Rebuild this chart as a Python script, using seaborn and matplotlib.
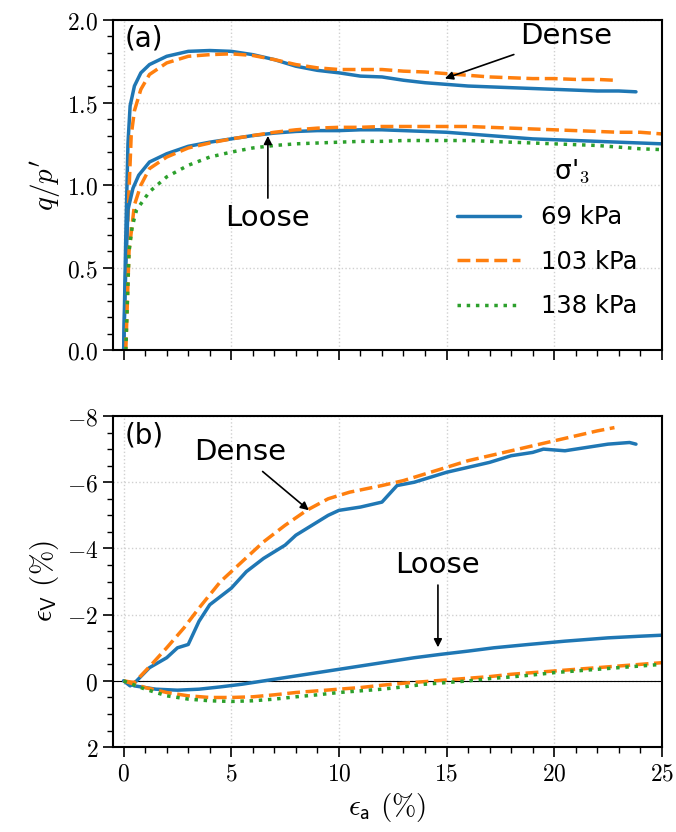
import numpy as np
import pandas as pd
import matplotlib
matplotlib.use("Agg")
import matplotlib.pyplot as plt
import matplotlib.ticker as mticker
import seaborn as sns

# ---- data: (a) stress ratio q/p' vs axial strain ----
dense69_x = [0, 0.1, 0.2, 0.3, 0.5, 0.8, 1.2, 2, 3, 4, 5, 6, 7, 8, 9, 10, 11, 12, 13, 14, 15,
             16, 17, 18, 19, 20, 21, 22, 23, 23.8]
dense69_q = [0, 0.7, 1.25, 1.48, 1.6, 1.68, 1.73, 1.78, 1.81, 1.815, 1.81, 1.79, 1.76, 1.72, 1.695,
             1.68, 1.66, 1.655, 1.635, 1.62, 1.61, 1.6, 1.595, 1.59, 1.585, 1.58, 1.575, 1.57, 1.57, 1.565]
dense103_x = [0.05, 0.2, 0.35, 0.5, 0.8, 1.2, 2, 3, 4, 5, 6, 7, 8, 9, 10, 11, 12, 13, 14, 15,
              16, 17, 18, 19, 20, 21, 22, 22.8]
dense103_q = [0, 0.8, 1.3, 1.45, 1.58, 1.67, 1.74, 1.78, 1.79, 1.795, 1.785, 1.76, 1.73, 1.71, 1.70,
              1.70, 1.70, 1.69, 1.685, 1.675, 1.665, 1.655, 1.65, 1.645, 1.645, 1.64, 1.64, 1.635]
loose69_x = [0, 0.1, 0.2, 0.43, 0.7, 1.2, 2, 3, 4, 5, 6, 7, 8, 9, 10, 11, 12, 13, 14, 15, 16,
             17, 18, 19, 20, 21, 22, 23, 24, 25]
loose69_q = [0, 0.5, 0.85, 0.98, 1.06, 1.14, 1.19, 1.235, 1.26, 1.28, 1.30, 1.315, 1.325, 1.33, 1.33,
             1.335, 1.335, 1.33, 1.325, 1.32, 1.31, 1.30, 1.29, 1.28, 1.275, 1.27, 1.265, 1.26, 1.255, 1.25]
loose103_x = [0.1, 0.25, 0.5, 0.8, 1.2, 2, 3, 4, 5, 6, 7, 8, 9, 10, 11, 12, 13, 14, 15, 16, 17,
              18, 19, 20, 21, 22, 23, 24, 25]
loose103_q = [0, 0.6, 0.88, 1.0, 1.1, 1.17, 1.225, 1.255, 1.28, 1.30, 1.32, 1.335, 1.345, 1.35, 1.35,
              1.355, 1.355, 1.355, 1.355, 1.355, 1.35, 1.345, 1.34, 1.335, 1.33, 1.325, 1.32, 1.32, 1.31]
loose138_x = [0.1, 0.25, 0.4, 0.6, 1.2, 2, 3, 4, 5, 6, 7, 8, 9, 10, 11, 12, 13, 14, 15, 16, 17,
              18, 19, 20, 21, 22, 23, 24, 25]
loose138_q = [0, 0.6, 0.75, 0.85, 0.96, 1.05, 1.12, 1.17, 1.2, 1.225, 1.24, 1.25, 1.255, 1.26, 1.265,
              1.265, 1.27, 1.27, 1.27, 1.27, 1.265, 1.26, 1.255, 1.25, 1.245, 1.24, 1.23, 1.22, 1.215]

# ---- data: (b) volumetric strain vs axial strain ----
dense69_ev_x = [0, 0.3, 0.6, 1.2, 2, 2.5, 3, 3.5, 4, 5, 5.7, 6.5, 7.5, 8, 8.5, 9, 9.5, 10, 11, 12,
                12.7, 13.5, 14.5, 15, 16, 17, 18, 19, 19.5, 20.5, 21.5, 22.5, 23.5, 23.8]
dense69_ev = [0, 0.15, 0, -0.4, -0.7, -1.0, -1.1, -1.8, -2.3, -2.8, -3.3, -3.7, -4.1, -4.4, -4.6, -4.8,
              -5.0, -5.15, -5.25, -5.4, -5.9, -6.0, -6.2, -6.3, -6.45, -6.6, -6.8, -6.9, -7.0, -6.95,
              -7.05, -7.15, -7.2, -7.15]
dense103_ev_x = [0, 0.5, 1.3, 2, 2.8, 3.5, 4.5, 5.5, 6.5, 7.5, 8.5, 9.5, 10.5, 12, 13, 14, 15, 16,
                 17, 18, 19, 20, 21, 22, 22.8]
dense103_ev = [0, 0.05, -0.5, -1.0, -1.6, -2.2, -3.0, -3.6, -4.2, -4.7, -5.15, -5.5, -5.7, -5.9, -6.05,
               -6.25, -6.45, -6.65, -6.8, -6.95, -7.1, -7.25, -7.4, -7.55, -7.65]
loose69_ev_x = [0, 0.5, 1.5, 2.5, 3.5, 4.5, 5.5, 6.5, 7.5, 8.5, 9.5, 10.5, 11.5, 12.5, 13.5, 14.7,
                16, 17.2, 18.8, 20.5, 22.5, 24, 25]
loose69_ev = [0, 0.15, 0.25, 0.28, 0.25, 0.18, 0.1, 0.0, -0.1, -0.2, -0.3, -0.4, -0.5, -0.6, -0.7,
              -0.8, -0.9, -1.0, -1.1, -1.2, -1.3, -1.35, -1.38]
loose103_ev_x = [0, 1, 2, 3, 4, 5, 6, 7, 8, 9, 10, 11, 12, 13, 14, 15, 16, 17, 18, 19, 20, 21,
                 22, 23, 24, 25]
loose103_ev = [0, 0.2, 0.35, 0.45, 0.5, 0.5, 0.48, 0.42, 0.35, 0.3, 0.25, 0.2, 0.13, 0.07, 0.02,
               -0.03, -0.08, -0.13, -0.2, -0.25, -0.3, -0.35, -0.4, -0.45, -0.5, -0.55]
loose138_ev_x = [0, 1, 2, 3, 4, 5, 6, 7, 8, 9, 10, 11, 12, 13, 14, 15, 16, 17, 18, 19, 20, 21,
                 22, 23, 24, 25]
loose138_ev = [0, 0.25, 0.45, 0.55, 0.6, 0.62, 0.6, 0.55, 0.48, 0.42, 0.35, 0.3, 0.25, 0.18, 0.1,
               0.05, 0.0, -0.07, -0.12, -0.18, -0.25, -0.3, -0.35, -0.4, -0.45, -0.5]

pressures = ["69 kPa", "103 kPa", "138 kPa"]

sns.set_style("ticks")
plt.rcParams["mathtext.fontset"] = "cm"
plt.rcParams["font.family"] = ["DejaVu Sans"]
for k in ("text.color", "axes.labelcolor", "xtick.color", "ytick.color", "axes.edgecolor"):
    plt.rcParams[k] = "black"

blue, orange, green = sns.color_palette("tab10")[:3]
LW = 2.5

fig = plt.figure(figsize=(6.76, 8.32), dpi=100)
ax1 = fig.add_axes([0.167, 0.579, 0.812, 0.397])
ax2 = fig.add_axes([0.167, 0.102, 0.812, 0.398])

# panel (a)
sns.lineplot(x=dense69_x, y=dense69_q, ax=ax1, color=blue, lw=LW, ls="-")
sns.lineplot(x=dense103_x, y=dense103_q, ax=ax1, color=orange, lw=LW, ls="--")
sns.lineplot(x=loose69_x, y=loose69_q, ax=ax1, color=blue, lw=LW, ls="-", label=pressures[0])
sns.lineplot(x=loose103_x, y=loose103_q, ax=ax1, color=orange, lw=LW, ls="--", label=pressures[1])
sns.lineplot(x=loose138_x, y=loose138_q, ax=ax1, color=green, lw=LW, ls=":", label=pressures[2])

# panel (b)
ax2.axhline(0, color="black", lw=0.8, zorder=1)
sns.lineplot(x=dense69_ev_x, y=dense69_ev, ax=ax2, color=blue, lw=LW, ls="-")
sns.lineplot(x=dense103_ev_x, y=dense103_ev, ax=ax2, color=orange, lw=LW, ls="--")
sns.lineplot(x=loose69_ev_x, y=loose69_ev, ax=ax2, color=blue, lw=LW, ls="-")
sns.lineplot(x=loose103_ev_x, y=loose103_ev, ax=ax2, color=orange, lw=LW, ls="--")
sns.lineplot(x=loose138_ev_x, y=loose138_ev, ax=ax2, color=green, lw=LW, ls=":")

fmt1 = mticker.FuncFormatter(lambda v, p: f"${v:.1f}$")
fmt0 = mticker.FuncFormatter(lambda v, p: f"${v:g}$")

for ax in (ax1, ax2):
    ax.set_xlim(-0.5, 25)
    ax.xaxis.set_major_locator(mticker.MultipleLocator(5))
    ax.xaxis.set_minor_locator(mticker.MultipleLocator(1))
    ax.grid(True, which="major", ls=":", color="#d0d0d0", lw=1)
    ax.tick_params(which="major", length=7, width=1.2, labelsize=17)
    ax.tick_params(which="minor", length=4, width=1.0)
    for s in ax.spines.values():
        s.set_linewidth(1.5)
        s.set_visible(True)

ax1.set_ylim(0, 2.0)
ax1.yaxis.set_major_locator(mticker.MultipleLocator(0.5))
ax1.yaxis.set_minor_locator(mticker.MultipleLocator(0.1))
ax1.yaxis.set_major_formatter(fmt1)
ax1.set_xticklabels([])
ax1.set_ylabel(r"$q/p'$", fontsize=21)

ax2.set_ylim(2, -8)
ax2.yaxis.set_major_locator(mticker.MultipleLocator(2))
ax2.yaxis.set_minor_locator(mticker.MultipleLocator(0.5))
ax2.yaxis.set_major_formatter(fmt0)
ax2.xaxis.set_major_formatter(fmt0)
ax2.set_ylabel(r"$\epsilon_\mathsf{V}\ (\%)$", fontsize=21)
ax2.set_xlabel(r"$\epsilon_\mathsf{a}\ (\%)$", fontsize=21)

ax1.legend(title="      σ'$_\\mathsf{3}$", loc="lower right", bbox_to_anchor=(0.995, 0.03), frameon=False,
           fontsize=17.5, title_fontsize=19, handlelength=2.6, handletextpad=0.85, labelspacing=0.85)

ax1.text(0.05, 1.885, "(a)", fontsize=20, va="center", ha="left")
ax2.text(0.05, -7.4, "(b)", fontsize=20, va="center", ha="left")

arrow = dict(arrowstyle="-|>", color="black", lw=1.2, mutation_scale=12)
ax1.annotate("Dense", xy=(14.8, 1.64), xytext=(18.4, 1.9), fontsize=21, va="center", ha="left",
             arrowprops=arrow)
ax1.annotate("Loose", xy=(6.7, 1.315), xytext=(6.7, 0.8), fontsize=21, va="center", ha="center",
             arrowprops=arrow)
ax2.annotate("Dense", xy=(8.7, -5.1), xytext=(5.4, -6.9), fontsize=21, va="center", ha="center",
             arrowprops=arrow)
ax2.annotate("Loose", xy=(14.6, -0.93), xytext=(14.6, -3.5), fontsize=21, va="center", ha="center",
             arrowprops=arrow)

fig.savefig("out.png", dpi=100)
